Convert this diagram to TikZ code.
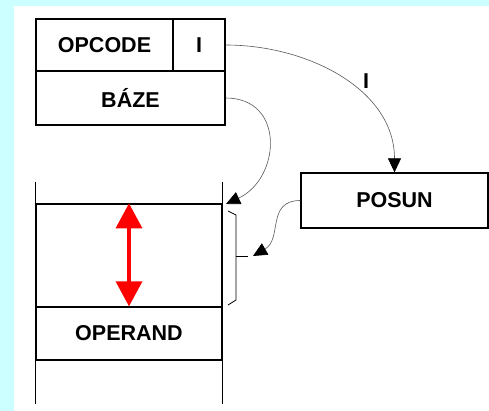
\documentclass[tikz,border=0pt]{standalone}
\usepackage{fontspec}
\setmainfont{Liberation Sans}
\usetikzlibrary{arrows.meta}
\definecolor{bgcyan}{RGB}{204,255,255}
\tikzset{>=latex}
\tikzset{cell/.style={draw,line width=1.3pt,inner sep=0pt,font=\bfseries\fontsize{21.5}{26}\selectfont}}
\tikzset{link/.style={draw=black!65,line width=0.6pt,-{Triangle[length=14pt,width=13pt,fill=black,color=black]}}}

\begin{document}
\begin{tikzpicture}[x=1pt,y=1pt]
                    \useasboundingbox (0,0) rectangle (489,-411);
                    \fill[bgcyan] (0,0) rectangle (489,-411);
                    \fill[white] (14,-6) rectangle (489,-411);

                    \node[cell,minimum width=137pt,minimum height=52pt] (opcode) at (104.5,-45) {OPCODE};
                    \node[cell,minimum width=52pt,minimum height=52pt] (ibit) at (199,-45) {I};
                    \node[cell,minimum width=189pt,minimum height=54pt] (baze) at (130.5,-98) {BÁZE};
                    \node[cell,minimum width=187pt,minimum height=55pt] (posun) at (394.5,-200.5) {POSUN};

                    \node[cell,minimum width=186pt,minimum height=103pt] (slot) at (129,-255.5) {};
                    \node[cell,minimum width=186pt,minimum height=53pt] (operand) at (129,-333.5) {OPERAND};
                    \draw[line width=1.3pt] (slot.north west) -- +(0,21);
                    \draw[line width=1.3pt] (slot.north east) -- +(0,21);
                    \draw[line width=1.3pt] (operand.south west) -- +(0,-43);
                    \draw[line width=1.3pt] (operand.south east) -- +(0,-43);

                    \draw[red,line width=3.5pt,{Triangle[length=25pt,width=26pt]}-{Triangle[length=25pt,width=26pt]}] (slot.north) -- (operand.north);

                    \coordinate (tip) at (226,-204);
                    \coordinate (brk) at (253,-256);
                    \draw[line width=0.8pt] (228,-211) -- (236,-215) -- (236,-300) -- (228,-305);
                    \draw[line width=0.8pt] (236,-256) -- (248,-256);

                    \draw[link] (ibit.east) to[out=0,in=90] (posun.north);
                    \node[font=\bfseries\fontsize{21.5}{26}\selectfont] (ilabel) at (366,-81) {I};
                    \draw[link] (baze.east) to[out=0,in=25,looseness=1.45] (tip);
                    \draw[link] (posun.west) to[out=180,in=30,looseness=1.2] (brk);
                \end{tikzpicture}
\end{document}
